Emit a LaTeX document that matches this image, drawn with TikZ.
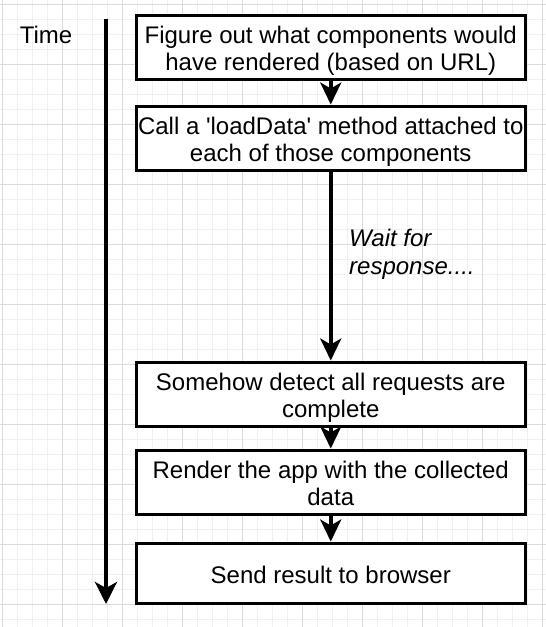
\documentclass[tikz,border=0pt]{standalone}
\usepackage{fontspec}
\setmainfont{Liberation Sans}
\usetikzlibrary{arrows.meta}
\newcommand\shiftdown[2]{\raisebox{0pt}[\dimexpr\height+#1\relax][\depth]{#2}}
\newcommand\twolines[2]{\shiftdown{10pt}{\begin{tabular}{@{}c@{}}#1\\#2\end{tabular}}}
\begin{document}
\begin{tikzpicture}[x=1pt,y=-1pt,
  stepbox/.style={draw=black, line width=3pt, fill=white, minimum width=388.5pt, minimum height=60pt,
    inner sep=0pt, font=\fontsize{24}{27}\selectfont},
  conn/.style={line width=3.5pt, -{Stealth[length=22pt,width=21pt,inset=6pt]}},
  label/.style={font=\fontsize{24}{28.8}\selectfont, inner sep=0pt},
  minorgrid/.style={draw=black!6, line width=1pt},
  majorgrid/.style={draw=black!14, line width=1pt}]
\renewcommand\arraystretch{1}
\useasboundingbox (0,0) rectangle (546,627);
\fill[white] (0,0) rectangle (546,627);
% grid
\foreach \i in {0,...,36} {
  \draw[minorgrid] ({2.7+15*\i},0) -- ({2.7+15*\i},627);
}
\foreach \i in {0,...,41} {
  \draw[minorgrid] (0,{4+15*\i}) -- (546,{4+15*\i});
}
\foreach \i in {0,...,9} {
  \draw[majorgrid] ({2.7+60*\i},0) -- ({2.7+60*\i},627);
}
\foreach \i in {0,...,10} {
  \draw[majorgrid] (0,{4+60*\i}) -- (546,{4+60*\i});
}
% boxes
\node[stepbox] (b1) at (330.75,47) {\twolines{Figure out what components would}{have rendered (based on URL)}};
\node[stepbox] (b2) at (330.75,138) {\twolines{Call a \textquotesingle loadData\textquotesingle{} method attached to}{each of those components}};
\node[stepbox] (b3) at (330.75,394) {\twolines{Somehow detect all requests are}{complete}};
\node[stepbox] (b4) at (330.75,482) {\twolines{Render the app with the collected}{data}};
\node[stepbox] (b5) at (330.75,573) {\shiftdown{3pt}{Send result to browser}};
% connectors
\draw[conn] (b1.south) -- (b2.north);
\draw[conn] (b2.south) -- (b3.north);
\draw[conn] (b3.south) -- (b4.north);
\draw[conn] (b4.south) -- (b5.north);
% time axis
\coordinate (t0) at (106,19);
\coordinate (t1) at (106,604);
\draw[line width=4pt, -{Stealth[length=22pt,width=22pt,inset=6pt]}] (t0) -- (t1);
\node[label] (time) at (46,35) {Time};
\node[label, anchor=west, align=left, font=\fontsize{24}{28}\selectfont\itshape] (wait) at (349,254) {Wait for\\response....};
\end{tikzpicture}
\end{document}
